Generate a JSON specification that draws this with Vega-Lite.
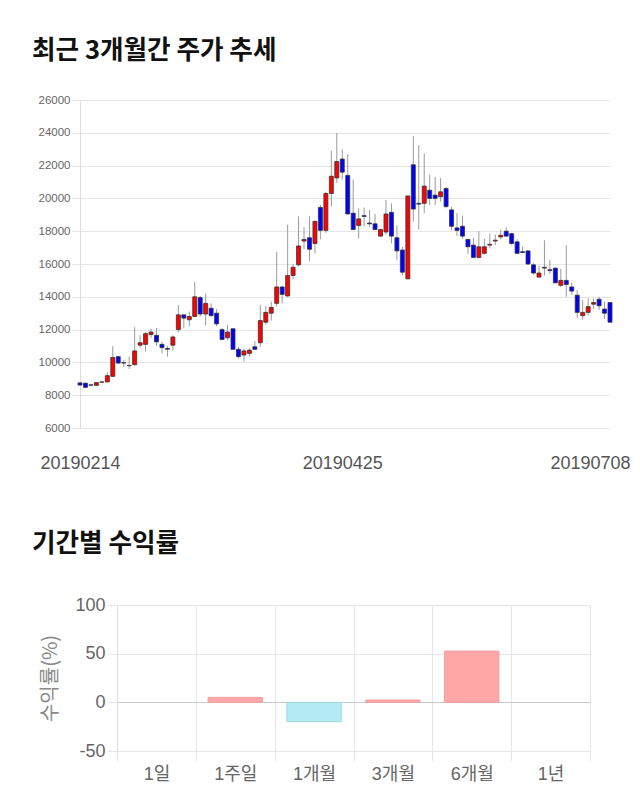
{
  "$schema": "https://vega.github.io/schema/vega-lite/v6.json",
  "background": "white",
  "padding": {"left": 31, "top": 39, "right": 0, "bottom": 0},
  "autosize": {"type": "pad"},
  "config": {"view": {"stroke": null}, "font": "Liberation Sans"},
  "datasets": {
    "candles": [
      {"date":"20190214","open":8750,"high":8790,"low":8580,"close":8620},
      {"date":"20190215","open":8730,"high":8770,"low":8440,"close":8480},
      {"date":"20190218","open":8630,"high":8700,"low":8540,"close":8610},
      {"date":"20190219","open":8600,"high":8790,"low":8580,"close":8770},
      {"date":"20190220","open":8790,"high":8850,"low":8760,"close":8810},
      {"date":"20190221","open":8810,"high":9400,"low":8790,"close":9190},
      {"date":"20190222","open":9150,"high":11000,"low":9110,"close":10300},
      {"date":"20190225","open":10350,"high":10400,"low":9900,"close":9960},
      {"date":"20190226","open":9980,"high":10150,"low":9720,"close":9960},
      {"date":"20190227","open":9800,"high":10350,"low":9600,"close":9810},
      {"date":"20190228","open":9860,"high":12150,"low":9800,"close":10700},
      {"date":"20190304","open":11050,"high":11650,"low":10900,"close":11200},
      {"date":"20190305","open":11100,"high":11850,"low":10650,"close":11750},
      {"date":"20190306","open":11700,"high":12050,"low":11500,"close":11850},
      {"date":"20190307","open":11650,"high":12100,"low":11000,"close":11250},
      {"date":"20190308","open":11100,"high":11250,"low":10550,"close":10900},
      {"date":"20190312","open":10850,"high":11000,"low":10350,"close":10800},
      {"date":"20190313","open":11050,"high":11650,"low":10700,"close":11550},
      {"date":"20190314","open":12000,"high":13500,"low":11850,"close":12900},
      {"date":"20190315","open":12900,"high":12900,"low":12100,"close":12700},
      {"date":"20190318","open":12600,"high":13100,"low":12200,"close":12800},
      {"date":"20190319","open":12800,"high":14900,"low":12750,"close":14000},
      {"date":"20190320","open":13950,"high":14050,"low":12800,"close":12950},
      {"date":"20190321","open":12950,"high":14200,"low":12250,"close":13600},
      {"date":"20190322","open":13300,"high":13600,"low":12800,"close":12850},
      {"date":"20190325","open":13000,"high":13250,"low":12200,"close":12350},
      {"date":"20190326","open":12000,"high":12100,"low":11350,"close":11400},
      {"date":"20190327","open":11500,"high":12300,"low":11350,"close":11850},
      {"date":"20190328","open":12050,"high":12050,"low":10800,"close":10800},
      {"date":"20190329","open":10800,"high":10950,"low":10250,"close":10350},
      {"date":"20190401","open":10450,"high":10850,"low":10050,"close":10700},
      {"date":"20190402","open":10550,"high":10850,"low":10350,"close":10750},
      {"date":"20190403","open":10950,"high":11300,"low":10750,"close":10800},
      {"date":"20190404","open":11200,"high":13500,"low":10950,"close":12550},
      {"date":"20190405","open":12450,"high":13450,"low":12300,"close":13050},
      {"date":"20190408","open":13000,"high":13700,"low":12550,"close":13350},
      {"date":"20190409","open":13600,"high":16750,"low":13400,"close":14600},
      {"date":"20190410","open":14600,"high":14650,"low":13600,"close":14150},
      {"date":"20190411","open":14050,"high":18400,"low":14000,"close":15300},
      {"date":"20190412","open":15300,"high":16000,"low":15050,"close":15800},
      {"date":"20190415","open":15950,"high":18900,"low":15850,"close":17100},
      {"date":"20190416","open":17400,"high":18250,"low":16900,"close":17500},
      {"date":"20190417","open":17600,"high":18900,"low":16200,"close":16900},
      {"date":"20190418","open":17250,"high":18650,"low":16650,"close":18600},
      {"date":"20190419","open":19450,"high":19600,"low":17500,"close":18050},
      {"date":"20190422","open":18050,"high":20400,"low":17900,"close":20300},
      {"date":"20190423","open":20300,"high":22900,"low":19500,"close":21350},
      {"date":"20190424","open":21250,"high":24000,"low":20950,"close":22250},
      {"date":"20190425","open":22400,"high":23000,"low":21150,"close":21600},
      {"date":"20190426","open":21400,"high":22700,"low":19000,"close":19050},
      {"date":"20190429","open":19100,"high":21150,"low":18100,"close":18100},
      {"date":"20190430","open":18350,"high":19400,"low":17550,"close":18750},
      {"date":"20190502","open":18950,"high":19450,"low":18300,"close":18900},
      {"date":"20190503","open":18500,"high":19300,"low":18250,"close":18450},
      {"date":"20190507","open":18450,"high":19050,"low":18100,"close":18100},
      {"date":"20190508","open":17700,"high":18150,"low":17650,"close":18100},
      {"date":"20190509","open":17950,"high":19900,"low":17800,"close":19050},
      {"date":"20190510","open":19150,"high":19700,"low":17250,"close":17700},
      {"date":"20190513","open":17600,"high":18350,"low":16250,"close":16800},
      {"date":"20190514","open":16850,"high":17050,"low":15300,"close":15500},
      {"date":"20190515","open":15100,"high":20150,"low":15050,"close":20150},
      {"date":"20190516","open":22050,"high":23800,"low":18600,"close":19350},
      {"date":"20190517","open":19700,"high":23250,"low":18100,"close":19650},
      {"date":"20190520","open":19700,"high":22750,"low":19100,"close":20750},
      {"date":"20190521","open":20500,"high":21450,"low":19600,"close":20000},
      {"date":"20190522","open":20200,"high":21300,"low":19600,"close":20000},
      {"date":"20190523","open":20100,"high":21250,"low":19800,"close":20400},
      {"date":"20190524","open":20600,"high":20700,"low":19400,"close":19500},
      {"date":"20190527","open":19300,"high":19500,"low":18050,"close":18300},
      {"date":"20190528","open":18200,"high":19100,"low":17700,"close":18050},
      {"date":"20190529","open":18300,"high":18950,"low":17550,"close":17700},
      {"date":"20190530","open":17500,"high":17500,"low":16600,"close":17050},
      {"date":"20190531","open":17150,"high":17600,"low":16350,"close":16400},
      {"date":"20190603","open":16400,"high":18000,"low":16350,"close":17050},
      {"date":"20190604","open":16650,"high":17550,"low":16550,"close":17050},
      {"date":"20190605","open":17150,"high":17850,"low":16950,"close":17200},
      {"date":"20190607","open":17400,"high":17800,"low":17150,"close":17450},
      {"date":"20190610","open":17650,"high":18100,"low":17500,"close":17750},
      {"date":"20190611","open":18000,"high":18250,"low":17650,"close":17700},
      {"date":"20190612","open":17850,"high":17900,"low":17150,"close":17250},
      {"date":"20190613","open":17350,"high":17500,"low":16600,"close":16650},
      {"date":"20190614","open":16750,"high":17050,"low":16650,"close":16700},
      {"date":"20190617","open":16800,"high":16800,"low":15950,"close":16000},
      {"date":"20190618","open":15950,"high":16050,"low":15350,"close":15450},
      {"date":"20190619","open":15200,"high":15900,"low":15200,"close":15450},
      {"date":"20190620","open":15750,"high":17450,"low":15300,"close":15800},
      {"date":"20190621","open":15650,"high":16250,"low":15400,"close":15600},
      {"date":"20190624","open":15750,"high":15750,"low":14850,"close":14850},
      {"date":"20190625","open":14700,"high":15700,"low":14600,"close":15000},
      {"date":"20190626","open":15000,"high":17150,"low":14000,"close":14750},
      {"date":"20190627","open":14600,"high":14850,"low":14100,"close":14350},
      {"date":"20190628","open":14100,"high":14400,"low":12700,"close":13050},
      {"date":"20190701","open":12850,"high":13800,"low":12600,"close":13050},
      {"date":"20190702","open":13050,"high":13900,"low":12850,"close":13400},
      {"date":"20190703","open":13550,"high":13900,"low":13250,"close":13650},
      {"date":"20190704","open":13850,"high":14000,"low":13200,"close":13450},
      {"date":"20190705","open":13250,"high":13700,"low":12650,"close":13000},
      {"date":"20190708","open":13650,"high":13650,"low":12450,"close":12450}
    ],
    "returns": [
      {"period":"1일","ret":0},
      {"period":"1주일","ret":5.1},
      {"period":"1개월","ret":-19.9},
      {"period":"3개월","ret":2.4},
      {"period":"6개월","ret":52.7},
      {"period":"1년","ret":0}
    ]
  },
  "spacing": 60,
  "vconcat": [
    {
      "title": {"text": "최근 3개월간 주가 추세", "anchor": "start", "font": "Noto Sans CJK KR", "fontSize": 25.6, "fontWeight": "bold", "color": "#111", "offset": 29, "dx": -6},
      "width": 530,
      "height": 328,
      "data": {"name": "candles"},
      "encoding": {
        "x": {
          "field": "date", "type": "ordinal", "sort": null,
          "scale": {"type": "point", "padding": 0},
          "axis": {
            "values": ["20190214", "20190425", "20190708"],
            "labelAngle": 0, "ticks": false, "domain": false, "grid": false, "title": null,
            "labelFontSize": 18, "labelColor": "#555", "labelPadding": 26,
            "labelOffset": {"condition": {"test": "datum.value === '20190708'", "value": -20}, "value": 0}
          }
        }
      },
      "layer": [
        {
          "mark": {"type": "rule", "color": "#9a9a9a", "strokeWidth": 1},
          "encoding": {
            "y": {
              "field": "low", "type": "quantitative",
              "scale": {"domain": [6000, 26000], "nice": false, "zero": false},
              "axis": {
                "values": [6000, 8000, 10000, 12000, 14000, 16000, 18000, 20000, 22000, 24000, 26000],
                "format": "d", "title": null, "labelOverlap": false,
                "labelFontSize": 11.5, "labelColor": "#666", "labelPadding": 2,
                "domainColor": "#dddddd", "tickColor": "#e6e6e6", "tickSize": 8,
                "gridColor": "#e6e6e6"
              }
            },
            "y2": {"field": "high"}
          }
        },
        {
          "mark": {"type": "bar", "size": 4, "stroke": "#333", "strokeWidth": 0.8},
          "encoding": {
            "y": {
              "field": "open", "type": "quantitative",
              "scale": {"domain": [6000, 26000], "nice": false, "zero": false},
              "axis": {
                "values": [6000, 8000, 10000, 12000, 14000, 16000, 18000, 20000, 22000, 24000, 26000],
                "format": "d", "title": null, "labelOverlap": false,
                "labelFontSize": 11.5, "labelColor": "#666", "labelPadding": 2,
                "domainColor": "#dddddd", "tickColor": "#e6e6e6", "tickSize": 8,
                "gridColor": "#e6e6e6"
              }
            },
            "y2": {"field": "close"},
            "color": {"condition": {"test": "datum.close >= datum.open", "value": "#ff0000"}, "value": "#0000ff"}
          }
        }
      ]
    },
    {
      "title": {"text": "기간별 수익률", "anchor": "start", "font": "Noto Sans CJK KR", "fontSize": 25.6, "fontWeight": "bold", "color": "#111", "offset": 38, "dx": -9},
      "width": 510,
      "height": 146,
      "data": {"name": "returns"},
      "mark": {"type": "bar", "strokeWidth": 1, "width": {"band": 0.69}},
      "encoding": {
        "x": {
          "field": "period", "type": "nominal", "sort": null,
          "scale": {"paddingInner": 0, "paddingOuter": 0, "range": [37, 510]},
          "axis": {
            "tickBand": "extent", "grid": true, "gridColor": "#e6e6e6",
            "tickColor": "#e6e6e6", "tickSize": 10, "domain": false,
            "labelAngle": 0, "labelFontSize": 18, "labelColor": "#666",
            "labelFont": "Liberation Sans, Noto Sans CJK KR",
            "labelPadding": 4, "title": null
          }
        },
        "y": {
          "field": "ret", "type": "quantitative",
          "scale": {"domain": [-50, 100], "nice": false},
          "axis": {
            "values": [-50, 0, 50, 100], "title": "수익률(%)", "offset": -37,
            "labelExpr": "datum.value + ''",
            "titleFont": "Noto Sans CJK KR", "titleFontSize": 20, "titleFontWeight": "normal",
            "titleColor": "#888", "titlePadding": 14,
            "labelFontSize": 18, "labelColor": "#666", "labelPadding": 2,
            "domainColor": "#dddddd", "tickColor": "#e6e6e6", "tickSize": 10,
            "gridColor": {"condition": {"test": "datum.value === 0", "value": "#c8c8c8"}, "value": "#e6e6e6"}
          }
        },
        "color": {"condition": {"test": "datum.ret >= 0", "value": "#ffa6a6"}, "value": "#b2ebf2"},
        "stroke": {"condition": [{"test": "datum.ret > 0", "value": "#f0a0a0"}, {"test": "datum.ret < 0", "value": "#9fd8e2"}], "value": null}
      }
    }
  ]
}
